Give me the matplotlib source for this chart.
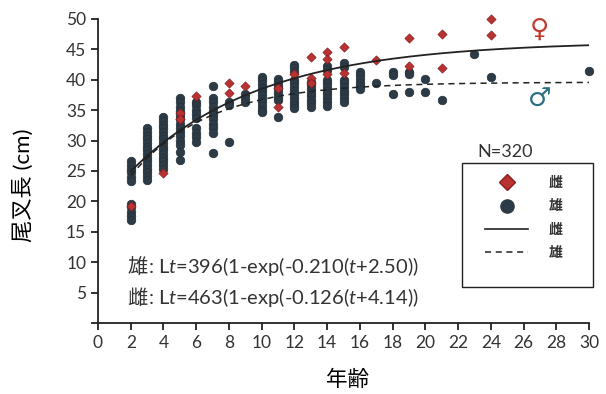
import matplotlib.pyplot as plt
import matplotlib.lines as mlines
import matplotlib.patches as mpatches
import numpy as np

plt.rcParams['font.family'] = ['Lato', 'Noto Sans CJK JP', 'DejaVu Sans']
plt.rcParams['mathtext.fontset'] = 'custom'
plt.rcParams['mathtext.rm'] = 'Lato'
plt.rcParams['mathtext.it'] = 'Lato:italic'

# Data: fork length (cm) by age
male_ages = [2] * 11 + [3] * 15 + [4] * 15 + [5] * 14 + [6] * 9 + [7] * 11 + [8] * 3 + [9] * 3 \
    + [10] * 11 + [11] * 8 + [12] * 12 + [13] * 8 + [14] * 10 + [15] * 9 + [16] * 6 \
    + [17, 18, 18, 18, 19, 19, 19, 20, 20, 21, 23, 24, 30]
male_len = [26.6, 26.0, 25.4, 24.8, 24.0, 23.4, 19.6, 19.0, 18.3, 17.6, 16.9,
            32.0, 31.4, 30.8, 30.2, 29.6, 29.0, 28.4, 27.8, 27.2, 26.6, 26.0, 25.4, 24.8, 24.2, 23.5,
            33.8, 33.2, 32.6, 32.0, 31.4, 30.8, 30.2, 29.6, 29.0, 28.4, 27.8, 27.2, 26.6, 26.0, 25.3,
            37.0, 36.3, 35.6, 34.9, 34.2, 33.5, 32.8, 32.1, 31.4, 30.7, 30.0, 29.3, 28.2, 26.8,
            36.4, 35.8, 35.1, 34.4, 33.7, 32.0, 31.3, 30.6, 29.8,
            39.0, 37.0, 36.3, 35.6, 34.9, 34.2, 33.5, 32.8, 32.1, 31.3, 28.0,
            36.4, 35.8, 29.7,
            37.6, 37.0, 36.4,
            40.5, 39.9, 39.3, 38.7, 38.1, 37.5, 36.9, 36.3, 35.7, 35.1, 34.7,
            40.2, 39.6, 39.0, 38.4, 37.8, 37.2, 36.7, 33.8,
            42.5, 41.9, 41.3, 40.0, 39.4, 38.8, 38.2, 37.6, 37.0, 36.4, 35.8, 35.3,
            39.7, 39.1, 38.5, 37.9, 37.3, 36.7, 36.1, 35.6,
            42.2, 41.6, 40.0, 39.4, 38.8, 38.2, 37.6, 37.0, 36.4, 35.7,
            42.7, 42.1, 40.0, 39.4, 38.8, 38.2, 37.6, 37.0, 36.4,
            41.3, 40.7, 40.1, 39.5, 38.9, 38.4,
            39.5, 41.3, 40.8, 37.6, 41.3, 40.9, 38.0, 40.2, 38.0, 36.6, 44.3, 40.5, 41.5]

female_ages = [2, 4, 5, 5, 6, 8, 8, 9, 11, 11, 12, 13, 13, 13, 14, 14, 14, 15, 15,
               17, 19, 19, 21, 21, 24, 24]
female_len = [19.3, 24.7, 34.6, 33.5, 37.4, 37.9, 39.5, 38.9, 38.6, 35.6, 41.0, 43.8, 40.3, 39.5,
              44.5, 43.4, 41.0, 45.4, 41.1, 43.2, 46.8, 42.2, 47.6, 42.0, 50.0, 47.3]

# von Bertalanffy parameters (Linf in mm, k, t0)
male_params = (396, 0.210, -2.50)
female_params = (463, 0.126, -4.14)

fig = plt.figure(figsize=(6.06, 3.94), dpi=100)
ax = fig.add_axes([0.1617, 0.180, 0.8103, 0.772])

ax.scatter(male_ages, male_len, s=38, marker='o', color='#2d3b46', edgecolors='#22303a',
           linewidths=0.5, zorder=2, clip_on=False)
ax.scatter(female_ages, female_len, s=22, marker='D', color='#b83232', edgecolors='#8a1f1f',
           linewidths=0.5, zorder=3, clip_on=False)

t = np.linspace(2, 30, 200)
Linf, k, t0 = female_params
ax.plot(t, Linf / 10 * (1 - np.exp(-k * (t - t0))), color='#222222', lw=1.3, zorder=4)
Linf, k, t0 = male_params
ax.plot(t, Linf / 10 * (1 - np.exp(-k * (t - t0))), color='#222222', lw=1.1, ls=(0, (4, 3)), zorder=4)

ax.set_xlim(0, 30)
ax.set_ylim(0, 50)
ax.set_xticks(range(0, 31, 2))
ax.set_yticks(range(0, 51, 5))
ax.set_yticklabels([''] + [str(v) for v in range(5, 51, 5)])
for s in ['top', 'right']:
    ax.spines[s].set_visible(False)
for s in ['left', 'bottom']:
    ax.spines[s].set_linewidth(1.3)
    ax.spines[s].set_color('#222222')
ax.tick_params(direction='out', length=5, width=1.3, colors='#222222', labelsize=12.5,
               labelcolor='#333333')

ax.set_xlabel('年齢', fontsize=15.5, va='top')
ax.xaxis.set_label_coords(0.509, -0.155)
ax.set_ylabel('尾叉長 (cm)', fontsize=16)
ax.yaxis.set_label_coords(-0.13, 0.454)

# growth equations: CJK prefix as plain text, formula as mathtext right after it
equations = [('雄', 396, 0.210, 2.50, 8.2), ('雌', 463, 0.126, 4.14, 3.1)]
for sex, L, kk, tt, ypos in equations:
    head = ax.text(1.8, ypos, sex, fontsize=14.5, va='baseline', ha='left', color='#333333')
    ax.annotate(': L$\\mathit{t}$=%d(1-exp(-%.3f($\\mathit{t}$+%.2f))' % (L, kk, tt),
                xy=(1, ypos), xycoords=(head, 'data'), va='baseline', ha='left',
                fontsize=14.5, color='#333333')

ax.text(27.0, 48.3, '♀', fontsize=19, color='#c23b30', ha='center', va='center', family='DejaVu Sans')
ax.text(27.0, 36.7, '♂', fontsize=19, color='#2a6f82', ha='center', va='center', family='DejaVu Sans')
ax.text(24.9, 28.2, 'N=320', fontsize=13, ha='center', va='center', color='#333333')

# legend box
fig.patches.append(mpatches.Rectangle((462 / 606, 1 - 287 / 394), 131 / 606, 124 / 394,
                                      transform=fig.transFigure, fill=False,
                                      edgecolor='#222222', lw=1.0))
handles = [
    mlines.Line2D([], [], ls='none', marker='D', ms=8, color='#b83232', mec='#8a1f1f'),
    mlines.Line2D([], [], ls='none', marker='o', ms=9.5, color='#2d3b46'),
    mlines.Line2D([], [], color='#222222', lw=1.2),
    mlines.Line2D([], [], color='#222222', lw=1.1, ls=(0, (4, 3))),
]
leg = ax.legend(handles, ['雌', '雄', '雌', '雄'], loc='upper left',
                bbox_to_anchor=(485 / 606, 1 - 176 / 394), bbox_transform=fig.transFigure,
                frameon=False, fontsize=10, handlelength=3.1, handletextpad=1.5,
                labelspacing=0.75, borderpad=0, borderaxespad=0)
for txt in leg.get_texts():
    txt.set_fontweight('bold')
    txt.set_color('#333333')

fig.savefig('out.png', dpi=100)
